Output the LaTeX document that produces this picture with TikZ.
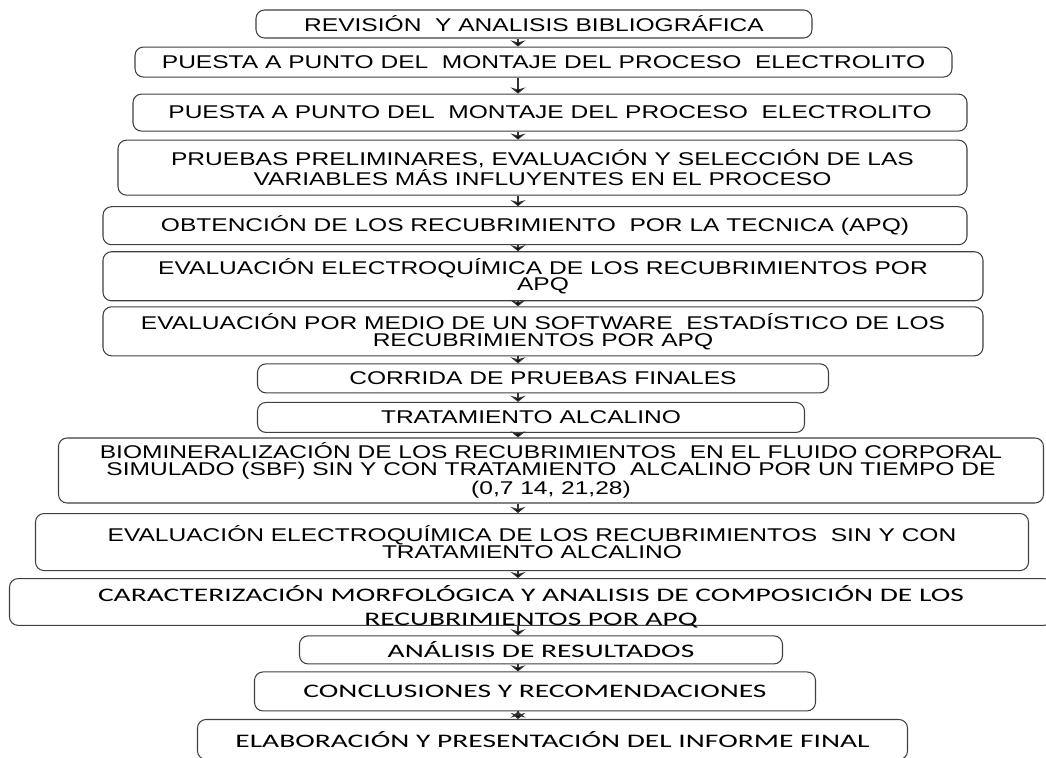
\documentclass[tikz,border=0pt]{standalone}
\usepackage{fontspec}
\newfontfamily\arialfont[FakeStretch=1.33]{Liberation Sans}
\newfontfamily\calfont[FakeStretch=1.54]{Carlito}
\usetikzlibrary{arrows.meta}
\usetikzlibrary{positioning}

\begin{document}
\begin{tikzpicture}
  [node distance=0.16cm,
   stepbox/.style={rectangle,rounded corners=0.17cm,draw=black!75,line width=0.6pt,fill=white,align=center,inner xsep=0pt,inner ysep=1pt,font=\arialfont\fontsize{10.5}{9.6}\selectfont},
   calbox/.style={stepbox,font=\calfont\fontsize{10.9}{13.6}\selectfont},
   flow/.style={-{Stealth[length=3.5pt,width=8.5pt,inset=1.2pt]},line width=0.8pt,draw=black!80}]
  \useasboundingbox (0,0) rectangle (20.92,-15.16);
  \coordinate (ax) at (10.36,0);
  \node[stepbox,minimum width=11.12cm,minimum height=0.56cm] (Revision) at (10.68,-0.48) {REVISIÓN\ \ Y ANALISIS BIBLIOGRÁFICA};
  \node[stepbox,minimum width=16.34cm,minimum height=0.60cm] (Puesta1) [below=0.16cm of Revision,xshift=0.19cm] {PUESTA A PUNTO DEL\ \ MONTAJE DEL PROCESO\ \ ELECTROLITO};
  \node[stepbox,minimum width=16.68cm,minimum height=0.74cm] (Puesta2) [below=0.32cm of Puesta1,xshift=0.13cm] {PUESTA A PUNTO DEL\ \ MONTAJE DEL PROCESO\ \ ELECTROLITO};
  \node[stepbox,minimum width=16.98cm,minimum height=1.10cm] (Pruebas) [below=0.16cm of Puesta2,xshift=-0.15cm] {PRUEBAS PRELIMINARES, EVALUACIÓN Y SELECCIÓN DE LAS\\VARIABLES MÁS INFLUYENTES EN EL PROCESO};
  \node[stepbox,minimum width=17.28cm,minimum height=0.76cm] (Obtencion) [below=0.21cm of Pruebas,xshift=-0.15cm] {OBTENCIÓN DE LOS RECUBRIMIENTO\ \ POR LA TECNICA (APQ)};
  \node[stepbox,minimum width=17.60cm,minimum height=0.98cm] (EvalAPQ) [below=0.12cm of Obtencion,xshift=0.16cm] {EVALUACIÓN ELECTROQUÍMICA DE LOS RECUBRIMIENTOS POR\\APQ};
  \node[stepbox,minimum width=17.60cm,minimum height=0.98cm] (EvalSoft) [below=0.10cm of EvalAPQ] {EVALUACIÓN POR MEDIO DE UN SOFTWARE\ \ ESTADÍSTICO DE LOS\\RECUBRIMIENTOS POR APQ};
  \node[stepbox,minimum width=11.42cm,minimum height=0.58cm] (Corrida) [below=0.14cm of EvalSoft] {CORRIDA DE PRUEBAS FINALES};
  \node[stepbox,minimum width=10.94cm,minimum height=0.60cm] (Tratamiento) [below=0.17cm of Corrida,xshift=-0.24cm] {TRATAMIENTO ALCALINO};
  \node[stepbox,minimum width=19.70cm,minimum height=1.30cm] (Biomin) [below=0.09cm of Tratamiento,xshift=0.40cm] {BIOMINERALIZACIÓN DE LOS RECUBRIMIENTOS\ \ EN EL FLUIDO CORPORAL\\SIMULADO (SBF) SIN Y CON TRATAMIENTO\ \ ALCALINO POR UN TIEMPO DE\\(0,7 14, 21,28)};
  \node[stepbox,minimum width=19.86cm,minimum height=1.14cm] (EvalAlc) [below=0.19cm of Biomin,xshift=-0.38cm] {EVALUACIÓN ELECTROQUÍMICA DE LOS RECUBRIMIENTOS\ \ SIN Y CON\\TRATAMIENTO ALCALINO};
  \node[calbox,minimum width=20.86cm,inner ysep=0pt] (Caract) [below=0.14cm of EvalAlc,xshift=-0.02cm] {\rule{0pt}{13pt}CARACTERIZACIÓN MORFOLÓGICA Y ANALISIS DE COMPOSICIÓN DE LOS\\\smash{RECUBRIMIENTOS POR APQ}};
  \node[calbox,minimum width=9.66cm,minimum height=0.56cm] (Analisis) [below=0.19cm of Caract,xshift=0.20cm] {ANÁLISIS DE RESULTADOS};
  \node[calbox,minimum width=11.22cm,minimum height=0.78cm] (Conclusiones) [below=0.14cm of Analisis,xshift=-0.12cm] {CONCLUSIONES Y RECOMENDACIONES};
  \node[calbox,minimum width=14.20cm,minimum height=0.80cm] (Informe) [below=0.15cm of Conclusiones,xshift=0.35cm] {ELABORACIÓN Y PRESENTACIÓN DEL INFORME FINAL};

  \path[flow]
    (Revision.south -| ax) edge (Puesta1.north -| ax)
    (Puesta1.south -| ax) edge (Puesta2.north -| ax)
    (Puesta2.south -| ax) edge (Pruebas.north -| ax)
    (Pruebas.south -| ax) edge (Obtencion.north -| ax)
    (Obtencion.south -| ax) edge (EvalAPQ.north -| ax)
    (EvalAPQ.south -| ax) edge (EvalSoft.north -| ax)
    (EvalSoft.south -| ax) edge (Corrida.north -| ax)
    (Corrida.south -| ax) edge (Tratamiento.north -| ax)
    (Tratamiento.south -| ax) edge (Biomin.north -| ax)
    (Biomin.south -| ax) edge (EvalAlc.north -| ax)
    (EvalAlc.south -| ax) edge (Caract.north -| ax)
    (Caract.south -| ax) edge (Analisis.north -| ax)
    (Analisis.south -| ax) edge (Conclusiones.north -| ax)
    (Conclusiones.south -| ax) edge (Informe.north -| ax)
    ;
\end{tikzpicture}
\end{document}
